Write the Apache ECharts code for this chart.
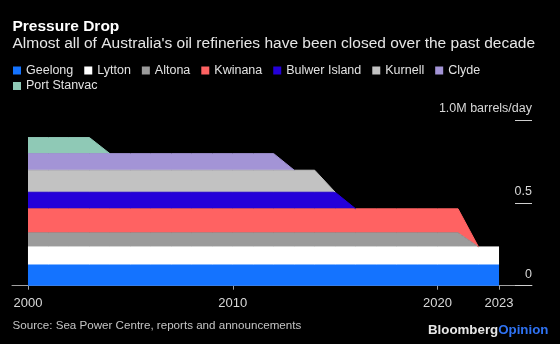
<!DOCTYPE html>
<html>
<head>
<meta charset="utf-8">
<script src="https://cdn.jsdelivr.net/npm/echarts@6/dist/echarts.min.js"></script>
<style>
html,body{margin:0;padding:0;background:#000;}
#c{width:560px;height:344px;}
</style>
</head>
<body>
<div id="c"></div>
<script>
// Years (x values)
var years = [2000,2001,2002,2003,2004,2005,2006,2007,2008,2009,2010,2011,2012,2013,2014,2015,2016,2017,2018,2019,2020,2021,2022,2023];
// Capacity, million barrels/day, per refinery per year (null = closed, nothing drawn)
var geelong     = [0.125,0.125,0.125,0.125,0.125,0.125,0.125,0.125,0.125,0.125,0.125,0.125,0.125,0.125,0.125,0.125,0.125,0.125,0.125,0.125,0.125,0.125,0.125,0.125];
var lytton      = [0.109,0.109,0.109,0.109,0.109,0.109,0.109,0.109,0.109,0.109,0.109,0.109,0.109,0.109,0.109,0.109,0.109,0.109,0.109,0.109,0.109,0.109,0.109,0.109];
var altona      = [0.085,0.085,0.085,0.085,0.085,0.085,0.085,0.085,0.085,0.085,0.085,0.085,0.085,0.085,0.085,0.085,0.085,0.085,0.085,0.085,0.085,0.085,0,null];
var kwinana     = [0.145,0.145,0.145,0.145,0.145,0.145,0.145,0.145,0.145,0.145,0.145,0.145,0.145,0.145,0.145,0.145,0.145,0.145,0.145,0.145,0.145,0.145,0,null];
var bulwer      = [0.1,0.1,0.1,0.1,0.1,0.1,0.1,0.1,0.1,0.1,0.1,0.1,0.1,0.1,0.1,0.1,0,null,null,null,null,null,null,null];
var kurnell     = [0.133,0.133,0.133,0.133,0.133,0.133,0.133,0.133,0.133,0.133,0.133,0.133,0.133,0.133,0.133,0,null,null,null,null,null,null,null,null];
var clyde       = [0.1,0.1,0.1,0.1,0.1,0.1,0.1,0.1,0.1,0.1,0.1,0.1,0.1,0,null,null,null,null,null,null,null,null,null,null];
var portStanvac = [0.097,0.097,0.097,0.097,0,null,null,null,null,null,null,null,null,null,null,null,null,null,null,null,null,null,null,null];

var seriesNames = ['Geelong','Lytton','Altona','Kwinana','Bulwer Island','Kurnell','Clyde','Port Stanvac'];
var seriesValues = [geelong, lytton, altona, kwinana, bulwer, kurnell, clyde, portStanvac];
var colors = ['#1473ff','#ffffff','#9b9b9b','#ff6262','#2400d9','#c2c2c2','#a394d6','#8fc9b6'];

var xTickValues = [2000, 2010, 2020, 2023];
var yTickLabels = {0: '0', 0.5: '0.5', 1: '1.0M barrels/day'};

var FONT = '"Liberation Sans", Arial, Helvetica, sans-serif';

var chart = echarts.init(document.getElementById('c'), null, {renderer: 'canvas'});

var series = seriesNames.map(function (name, i) {
  return {
    name: name,
    type: 'line',
    stack: 'total',
    symbol: 'none',
    showSymbol: false,
    connectNulls: false,
    lineStyle: {width: 1, color: colors[i]},
    areaStyle: {color: colors[i], opacity: 1},
    itemStyle: {color: colors[i]},
    emphasis: {disabled: true},
    // value first so the stack is applied on the y (value) dimension
    encode: {x: 1, y: 0},
    data: years.map(function (y, j) { return [seriesValues[i][j], y]; })
  };
});

var legendText = {color: '#e2e2e2', fontSize: 12.5, fontFamily: FONT};

chart.setOption({
  backgroundColor: '#000000',
  animation: false,
  color: colors,
  grid: {left: 12, right: 28, top: 120, bottom: 58.3, containLabel: false},
  legend: [
    {
      data: seriesNames.slice(0, 7),
      left: 13, top: 64, padding: 0,
      itemWidth: 8, itemHeight: 8, itemGap: 11, icon: 'rect',
      textStyle: legendText, selectedMode: false
    },
    {
      data: seriesNames.slice(7),
      left: 13, top: 79.5, padding: 0,
      itemWidth: 8, itemHeight: 8, itemGap: 11, icon: 'rect',
      textStyle: legendText, selectedMode: false
    }
  ],
  xAxis: {
    type: 'value',
    min: 1999.22,
    max: 2024.61,
    axisLine: {show: true, lineStyle: {color: '#a0a0a0', width: 1}},
    axisTick: {show: true, customValues: xTickValues, length: 4, lineStyle: {color: '#a0a0a0'}},
    axisLabel: {show: true, customValues: xTickValues, margin: 11, color: '#d8d8d8', fontSize: 13, fontFamily: FONT,
      formatter: function (v) { return String(v); }},
    splitLine: {show: false}
  },
  yAxis: {
    type: 'value',
    position: 'right',
    min: 0, max: 1, interval: 0.5,
    axisLine: {show: false},
    axisTick: {show: true, inside: true, length: 17, lineStyle: {color: '#cfcfcf', width: 1}},
    axisLabel: {
      inside: true, margin: 0, color: '#d8d8d8', fontSize: 12.5, fontFamily: FONT,
      verticalAlign: 'bottom', padding: [0, 0, 5, 0],
      formatter: function (v) { return yTickLabels[v] !== undefined ? yTickLabels[v] : ''; }
    },
    splitLine: {show: false}
  },
  graphic: [
    {type: 'text', left: 12.5, top: 18.5, style: {text: 'Pressure Drop', fill: '#ffffff', font: 'bold 15.5px ' + FONT}},
    {type: 'text', left: 12.5, top: 36, style: {text: "Almost all of Australia's oil refineries have been closed over the past decade", fill: '#e6e6e6', font: '15.5px ' + FONT}},
    {type: 'text', left: 12.5, top: 320, style: {text: 'Source: Sea Power Centre, reports and announcements', fill: '#c4c4c4', font: '11.6px ' + FONT}},
    {type: 'text', left: 428, top: 324, style: {
      text: '{a|Bloomberg}{b|Opinion}',
      rich: {
        a: {fill: '#e6e6e6', font: 'bold 13.3px ' + FONT},
        b: {fill: '#2f72f2', font: 'bold 13.3px ' + FONT}
      }
    }}
  ],
  series: series
});
</script>
</body>
</html>
